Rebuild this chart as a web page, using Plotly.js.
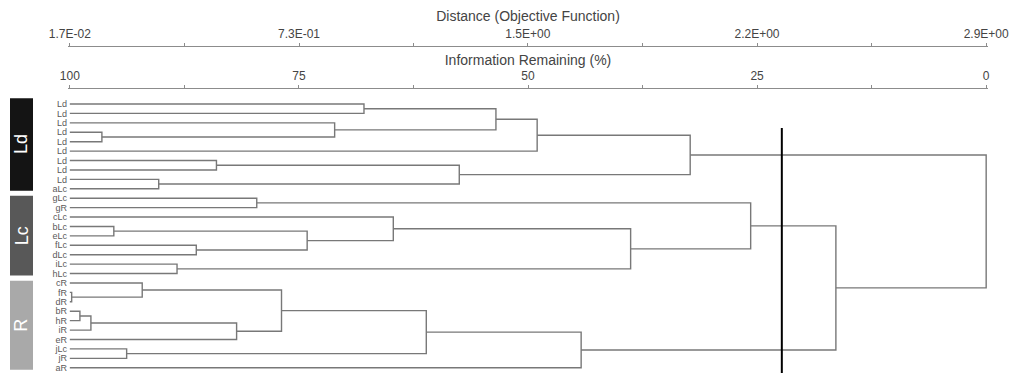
<!DOCTYPE html>
<html><head><meta charset="utf-8">
<script src="https://cdn.plot.ly/plotly-3.0.1.min.js"></script>
<style>html,body{margin:0;padding:0;background:#fff}#chart{width:1010px;height:373px}</style>
</head><body><div id="chart"></div>
<script>
// Leaves, top to bottom
const leafLabels = ['Ld','Ld','Ld','Ld','Ld','Ld','Ld','Ld','Ld','aLc','gLc','gR','cLc','bLc','eLc','fLc','dLc','iLc','hLc','cR','fR','dR','bR','hR','iR','eR','jLc','jR','aR'];
// Linkage: node ids >= leafLabels.length refer to earlier merges (in order)
const mergeLeft  = [20,22,30,3,13,26,19,8,17,15,6,31,10,35,33,2,0,12,42,39,45,49,47,46,50,41,54,53];
const mergeRight = [21,23,24,4,14,27,29,9,18,16,7,25,11,40,38,32,1,43,34,36,44,5,28,37,48,52,51,55];
// Merge level, information remaining (%)
const mergeInfo  = [99.8,98.9,97.7,96.5,95.2,93.8,92.1,90.3,88.3,86.2,84.0,81.8,79.6,76.9,74.1,71.1,67.9,64.7,61.1,57.5,53.5,49.0,44.2,38.8,32.3,25.7,16.4,0];
const cutInfo = 22.3;
const infoTicks = [100,87.5,75,62.5,50,37.5,25,12.5,0];
const infoTickLabels = ['100','','75','','50','','25','','0'];
const distMin = 0.017, distMax = 2.9;
const distTicks = [0.017,0.377,0.738,1.098,1.458,1.819,2.179,2.540,2.9];
const distTickLabels = ['1.7E-02','','7.3E-01','','1.5E+00','','2.2E+00','','2.9E+00'];
const groupNames = ['Ld','Lc','R'];
const groupStart = [0,10,19];
const groupEnd = [9,18,28];
const groupColors = ['#141414','#585858','#a9a9a9'];

// Build dendrogram segments
const nodeY = leafLabels.map((_, i) => i);
const nodeH = leafLabels.map(() => 100);
const xs = [], ys = [];
mergeLeft.forEach((a, k) => {
  const b = mergeRight[k], h = mergeInfo[k];
  xs.push(nodeH[a], h, h, nodeH[b], null);
  ys.push(nodeY[a], nodeY[a], nodeY[b], nodeY[b], null);
  nodeY.push((nodeY[a] + nodeY[b]) / 2);
  nodeH.push(h);
});

const infoRange = [100.2, -0.2];
const toDist = p => distMin + (100 - p) / 100 * (distMax - distMin);
const distRange = [toDist(infoRange[0]), toDist(infoRange[1])];
const yRange = [28.556, -1.592];

const traces = [
  {x: xs, y: ys, mode: 'lines', line: {color: '#787878', width: 1.4}, hoverinfo: 'skip', xaxis: 'x', yaxis: 'y'},
  {x: distRange, y: [0, 0], mode: 'markers', marker: {opacity: 0}, hoverinfo: 'skip', xaxis: 'x2', yaxis: 'y'}
];

const L = 68, W = 920;
const px = p => (p - L) / W;
const shapes = [{type: 'line', xref: 'x', yref: 'y', x0: cutInfo, x1: cutInfo, y0: 2.55, y1: yRange[0], line: {color: '#000', width: 2}}];
const annotations = [];
groupNames.forEach((g, i) => {
  const y0 = i === 0 ? groupStart[i] - 0.6 : groupStart[i] - 0.25;
  const y1 = Math.min(groupEnd[i] + 0.2, yRange[0] + 1);
  shapes.push({type: 'rect', xref: 'paper', yref: 'y', x0: px(10), x1: px(33), y0: y0, y1: y1, fillcolor: groupColors[i], line: {width: 0}, layer: 'above'});
  annotations.push({xref: 'paper', yref: 'y', x: px(21.5), y: (y0 + Math.min(y1, yRange[0])) / 2, xanchor: 'center', yanchor: 'middle', text: g, showarrow: false, textangle: -90, font: {size: 18, color: '#fff'}});
});

const axCommon = {showgrid: false, zeroline: false, showline: true, linecolor: '#8c8c8c', linewidth: 1, ticks: 'outside', ticklen: 3, tickcolor: '#8c8c8c', tickfont: {size: 12, color: '#444'}, fixedrange: true};

const layout = {
  width: 1010, height: 373, margin: {l: L, r: 1010 - L - W, t: 0, b: 0},
  paper_bgcolor: '#fff', plot_bgcolor: '#fff', showlegend: false,
  font: {family: 'Liberation Sans, Arial, sans-serif', color: '#444'},
  xaxis: Object.assign({}, axCommon, {range: infoRange, side: 'top', anchor: 'y', tickvals: infoTicks, ticktext: infoTickLabels,
    title: {text: 'Information Remaining (%)', font: {size: 14, color: '#444'}, standoff: 0}}),
  xaxis2: Object.assign({}, axCommon, {range: distRange, side: 'top', anchor: 'free', overlaying: 'x', position: 0.8767, tickvals: distTicks, ticktext: distTickLabels,
    title: {text: 'Distance (Objective Function)', font: {size: 14, color: '#444'}, standoff: 1}}),
  yaxis: {domain: [0, 0.7614], range: yRange, tickvals: leafLabels.map((_, i) => i), ticktext: leafLabels, ticks: '', showgrid: false, zeroline: false, showline: false, ticklabeloverflow: 'allow', tickfont: {size: 9, color: '#5a5a5a'}, fixedrange: true},
  shapes: shapes, annotations: annotations
};

Plotly.newPlot('chart', traces, layout, {displayModeBar: false, staticPlot: true});
</script></body></html>
